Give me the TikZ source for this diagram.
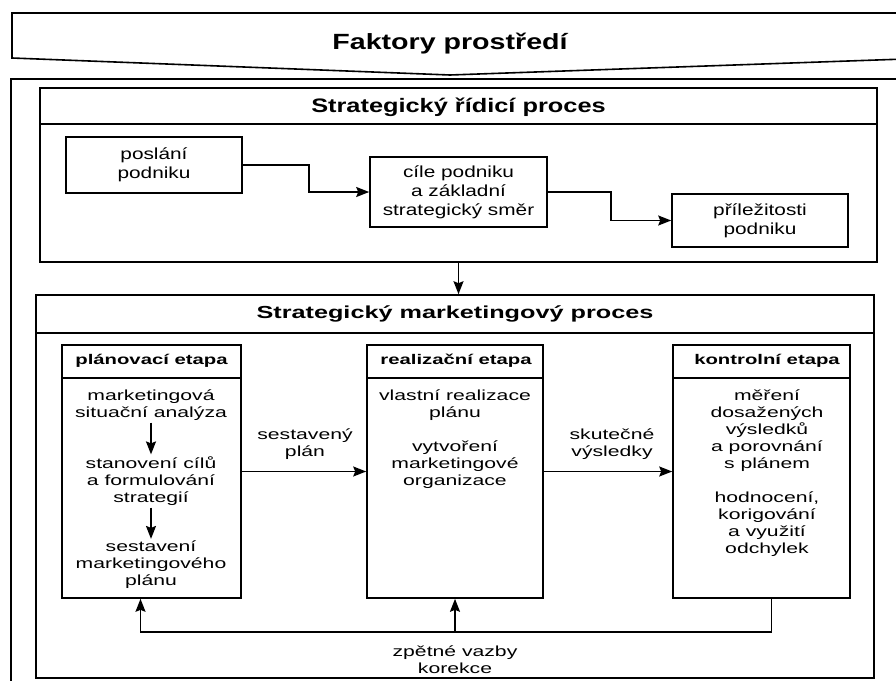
\documentclass[tikz,border=0pt]{standalone}
\usepackage{fontspec}
\setmainfont{Liberation Sans}
\newfontfamily\topfont{Liberation Sans}[FakeStretch=1.3]
\newfontfamily\botfont{Liberation Sans}[FakeStretch=1.45]
\usetikzlibrary{arrows.meta}
\tikzset{
  box/.style={draw, line width=1.6pt, inner sep=0pt},
  toptxt/.style={align=center, font=\topfont\fontsize{16}{19}\selectfont},
  bottxt/.style={align=center, inner sep=2pt, font=\botfont\fontsize{14.6}{17}\selectfont},
  headtxt/.style={font=\botfont\bfseries\fontsize{14}{17}\selectfont},
  arr/.style={line width=1.6pt, -{Stealth[length=13pt,width=10pt,inset=2pt]}},
  line/.style={line width=1.6pt}
}
\begin{document}
\begin{tikzpicture}[x=1pt,y=-1pt]
        \useasboundingbox (0,0) rectangle (896,680);
        \fill[white] (0,0) rectangle (896,680);
        \clip (0,0) rectangle (896,680);
        % prostredi
        \draw[line] (905,13) -- (12,13) -- (12,58) -- (450,75) -- (905,59);
        \node[font=\topfont\bfseries\fontsize{22}{26}\selectfont] (faktory) at (450,44) {Faktory prostředí};
        \draw[line] (905,79) -- (11,79) -- (11,690);
        % ridici proces
        \node[box, minimum width=837pt, minimum height=174pt] (ridici) at (458.5,175) {};
        \draw[line] ([yshift=-37pt]ridici.north west) -- ([yshift=-37pt]ridici.north east);
        \node[font=\topfont\bfseries\fontsize{19.5}{23}\selectfont] (ridicititle) at (458.5,107) {Strategický řídicí proces};
        \node[box, toptxt, minimum width=176pt, minimum height=56pt] (poslani) at (154,165) {poslání\\podniku};
        \node[box, toptxt, minimum width=177pt, minimum height=70pt] (cile) at (458.5,192) {cíle podniku\\a základní\\strategický směr};
        \node[box, toptxt, minimum width=176pt, minimum height=53pt] (prilez) at (760,220.5) {příležitosti\\podniku};
        \draw[arr] (poslani.east) -- ++(66,0) |- (cile.west);
        \draw[arr] (cile.east) -- ++(63,0) |- (prilez.west);
        % marketingovy proces
        \node[box, minimum width=838pt, minimum height=383pt] (marketing) at (455,486.5) {};
        \draw[line] ([yshift=-39pt]marketing.north west) -- ([yshift=-39pt]marketing.north east);
        \node[font=\botfont\bfseries\fontsize{17.4}{21}\selectfont] (markettitle) at (455,314) {Strategický marketingový proces};
        \draw[arr] (ridici.south) -- (ridici.south |- marketing.north);
        \node[box, minimum width=179pt, minimum height=253pt] (plan) at (151.5,471.5) {};
        \node[box, minimum width=176pt, minimum height=253pt] (realiz) at (455,471.5) {};
        \node[box, minimum width=177pt, minimum height=253pt] (kontrol) at (761.5,471.5) {};
        \foreach \b in {plan,realiz,kontrol}
          \draw[line] ([yshift=-34pt]\b.north west) -- ([yshift=-34pt]\b.north east);
        \node[headtxt] (planhead) at (151.5,361) {plánovací etapa};
        \node[headtxt] (realizhead) at (456,361) {realizační etapa};
        \node[headtxt] (kontrolhead) at (767,361) {kontrolní etapa};
        \node[bottxt] (pa) at (151,405) {marketingová\\situační analýza};
        \node[bottxt] (pb) at (151,481) {stanovení cílů\\a formulování\\strategií};
        \node[bottxt] (pc) at (151,565) {sestavení\\marketingového\\plánu};
        \draw[arr] (pa) -- (pb);
        \draw[arr] (pb) -- (pc);
        \node[bottxt, anchor=north, inner sep=0pt] (realiztxt) at (455,390)
          {vlastní realizace\\plánu\\[17pt]vytvoření\\marketingové\\organizace};
        \node[bottxt, anchor=north, inner sep=0pt] (kontroltxt) at (767,390)
          {měření\\dosažených\\výsledků\\a porovnání\\s plánem\\[17pt]hodnocení,\\korigování\\a využití\\odchylek};
        \draw[arr] (plan.east) -- (realiz.west);
        \draw[arr] (realiz.east) -- (kontrol.west);
        \node[bottxt] (sestaveny) at (305,444) {sestavený\\plán};
        \node[bottxt] (skutecne) at (612,444) {skutečné\\výsledky};
        % zpetne vazby
        \coordinate (fb) at (455,632);
        \draw[arr] ([xshift=10pt]kontrol.south) |- (fb) -| ([xshift=-11pt]plan.south);
        \draw[arr] (fb) -- (realiz.south);
        \node[bottxt] (zpetne) at (455,660) {zpětné vazby\\korekce};
\end{tikzpicture}
\end{document}
